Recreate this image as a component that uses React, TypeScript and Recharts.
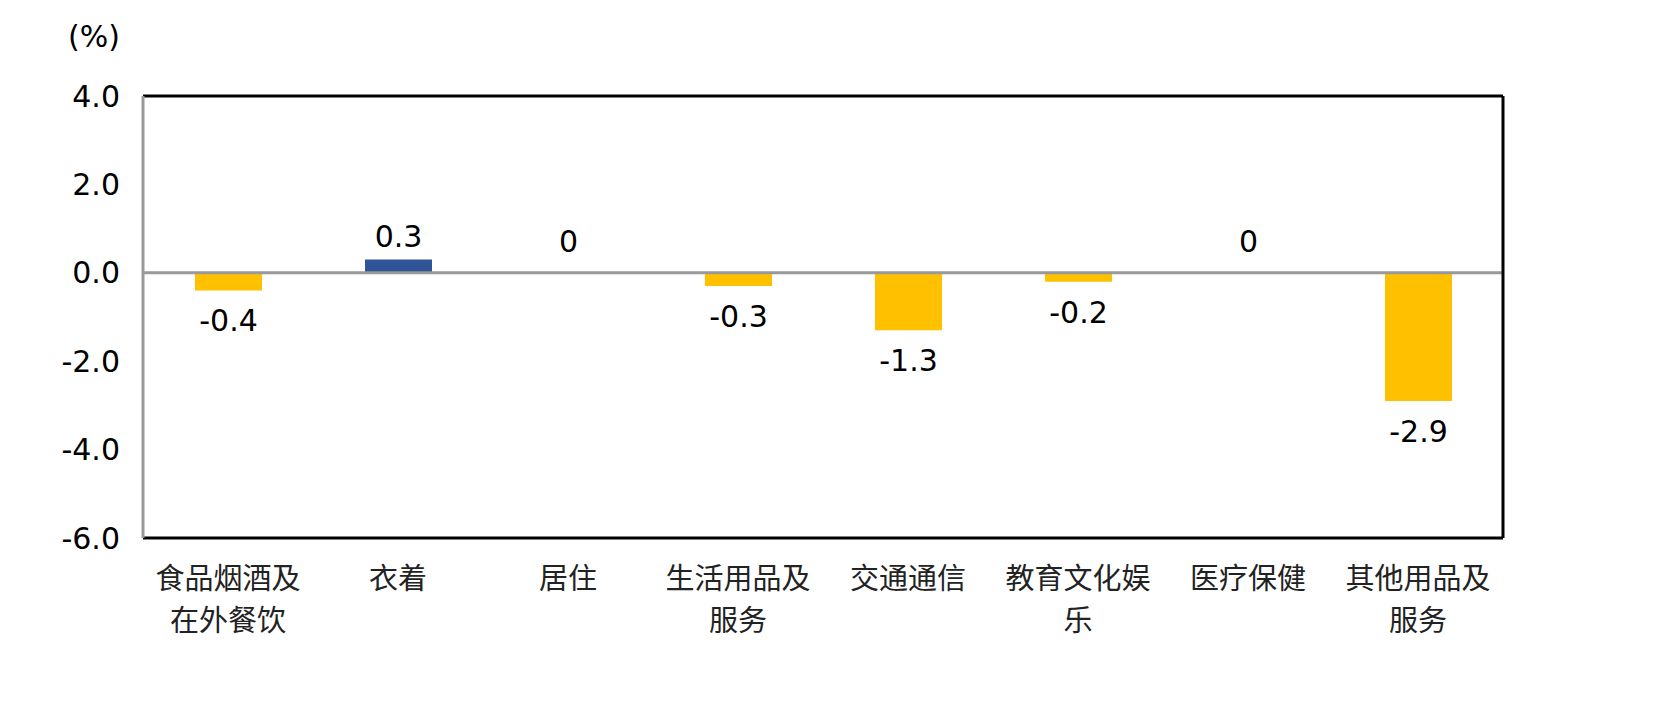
import { BarChart, Bar, XAxis, YAxis, ReferenceLine, Cell, LabelList } from "recharts";

const categories = [
  "食品烟酒及在外餐饮",
  "衣着",
  "居住",
  "生活用品及服务",
  "交通通信",
  "教育文化娱乐",
  "医疗保健",
  "其他用品及服务",
];
const values = [-0.4, 0.3, 0, -0.3, -1.3, -0.2, 0, -2.9];
const yTicks = [-6, -4, -2, 0, 2, 4];

const data = categories.map((name, i) => ({ name, value: values[i] }));

const NUM_FONT = "DejaVu Sans, sans-serif";
const CJK_FONT = "'Noto Sans CJK SC', sans-serif";

function CategoryTick(props: any) {
  const { x, y, payload } = props;
  const text: string = payload.value;
  const lines: string[] = [];
  for (let i = 0; i < text.length; i += 5) lines.push(text.slice(i, i + 5));
  return (
    <g>
      {lines.map((l, i) => (
        <text
          key={i}
          x={x}
          y={y + 51 + i * 42}
          textAnchor="middle"
          fontFamily={CJK_FONT}
          fontSize={29}
          fill="#222"
        >
          {l}
        </text>
      ))}
    </g>
  );
}

function ValueLabel(props: any) {
  const { x, y, width, height, value } = props;
  const cx = x + width / 2;
  const top = Math.min(y, y + (height || 0));
  const bottom = Math.max(y, y + (height || 0));
  let ty = bottom + 41;
  if (value > 0) ty = top - 13;
  if (value === 0) ty = top - 20;
  return (
    <text
      x={cx}
      y={ty}
      textAnchor="middle"
      fontFamily={NUM_FONT}
      fontSize={30}
      fill="#000"
    >
      {value}
    </text>
  );
}

export default function App() {
  return (
    <div
      style={{
        position: "absolute",
        left: 0,
        top: 0,
        width: 1660,
        height: 705,
        background: "#fff",
      }}
    >
      <div
        style={{
          position: "absolute",
          left: 68,
          top: 19,
          fontFamily: NUM_FONT,
          fontSize: 30,
          color: "#000",
        }}
      >
        (%)
      </div>
      <BarChart
        width={1660}
        height={705}
        data={data}
        margin={{ top: 96, right: 0, bottom: 67, left: 0 }}
        barSize={67}
      >
        <XAxis
          dataKey="name"
          height={100}
          axisLine={{ stroke: "#000", strokeWidth: 3 }}
          tickLine={false}
          tick={<CategoryTick />}
          interval={0}
          tickSize={0}
          tickMargin={0}
        />
        <YAxis
          width={143}
          domain={[-6, 4]}
          ticks={yTicks}
          interval={0}
          tickFormatter={(v: number) => v.toFixed(1)}
          axisLine={{ stroke: "#999", strokeWidth: 3 }}
          tickLine={false}
          tickSize={6}
          tickMargin={17}
          tick={{ fontFamily: NUM_FONT, fontSize: 30, fill: "#000" }}
        />
        <YAxis
          yAxisId="right"
          orientation="right"
          width={157}
          domain={[-6, 4]}
          type="number"
          tick={false}
          tickLine={false}
          axisLine={{ stroke: "#000", strokeWidth: 3 }}
        />
        <ReferenceLine y={4} stroke="#000" strokeWidth={3} />
        <Bar
          dataKey="value"
          isAnimationActive={false}
          minPointSize={(v: number) => (v === 0 ? 1 : 0)}
        >
          {data.map((d, i) => (
            <Cell
              key={i}
              fill={d.value > 0 ? "#2F5597" : d.value < 0 ? "#FFC000" : "none"}
            />
          ))}
          <LabelList dataKey="value" content={<ValueLabel />} />
        </Bar>
        <ReferenceLine y={0} stroke="#999" strokeWidth={3} />
      </BarChart>
    </div>
  );
}
